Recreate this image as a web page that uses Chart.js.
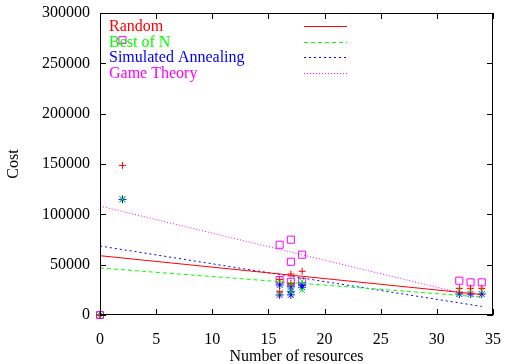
<!DOCTYPE html>
<html>
<head>
<meta charset="utf-8">
<script src="https://cdn.jsdelivr.net/npm/chart.js@4/dist/chart.umd.min.js"></script>
<style>
  html, body { margin: 0; padding: 0; background: #fff; }
  #wrap { width: 508px; height: 364px; }
</style>
</head>
<body>
<div id="wrap"><canvas id="canvas" width="508" height="364"></canvas></div>
<script>
// measured points (x = number of resources, y = cost)
var randomX = [0, 2, 16, 16, 17, 17, 18, 32, 33, 34];
var randomY = [0, 148600, 35400, 23100, 40700, 31500, 43400, 26500, 26500, 26500];

var bestX = [0, 2, 16, 16, 17, 17, 18, 18, 32, 33, 34];
var bestY = [0, 115000, 33000, 22000, 30000, 23100, 33700, 24800, 23800, 23800, 23800];

var annealX = [0, 2, 16, 16, 17, 17, 17, 18, 18, 32, 33, 34];
var annealY = [0, 114900, 29800, 19900, 28100, 23100, 20000, 29800, 27500, 20800, 20800, 20800];

var gameX = [0, 2, 16, 16, 17, 17, 17, 18, 18, 32, 33, 34];
var gameY = [0, 273000, 69800, 34700, 74800, 52900, 33000, 59900, 33000, 34100, 32400, 32400];

// fitted lines, value at each end
var fitX = [0, 34];
var randomFit = [58900, 20300];
var bestFit = [46700, 17800];
var annealFit = [68500, 8500];
var gameFit = [108200, 16800];

var xTicks = [0, 5, 10, 15, 20, 25, 30, 35];
var yTicks = [0, 50000, 100000, 150000, 200000, 250000, 300000];

var names = ["Random", "Best of N", "Simulated Annealing", "Game Theory"];
var colors = ["#ff0000", "#00ff00", "#0000ff", "#ff00ff"];
var dashes = [[], [4, 3], [2, 3], [1, 2]];

var SERIF = "'Liberation Serif', 'DejaVu Serif', serif";

function pairs(xs, ys) {
    return xs.map(function (x, i) { return {x: x, y: ys[i]}; });
}

// [x, y, marker, radius]
var pointSets = [[randomX, randomY, 'cross', 3.5], [bestX, bestY, 'crossRot', 4.5],
                 [annealX, annealY, 'star', 4], [gameX, gameY, 'rect', 5]];
var fits = [randomFit, bestFit, annealFit, gameFit];

var datasets = [];
fits.forEach(function (f, i) {
    datasets.push({
        type: 'line',
        data: pairs(fitX, f),
        borderColor: colors[i],
        borderWidth: 1,
        borderDash: dashes[i],
        pointRadius: 0,
        fill: false,
        clip: false
    });
});
pointSets.forEach(function (p, i) {
    datasets.push({
        type: 'scatter',
        data: pairs(p[0], p[1]),
        borderColor: colors[i],
        backgroundColor: p[2] === 'rect' ? 'rgba(0,0,0,0)' : colors[i],
        pointStyle: p[2],
        pointRadius: p[3],
        borderWidth: 1,
        clip: false
    });
});

// gnuplot style: inward ticks on all four sides, box border, legend text left / sample right
var gnuplotFrame = {
    id: 'gnuplotFrame',
    afterDraw: function (chart) {
        var ctx = chart.ctx, a = chart.chartArea;
        var xs = chart.scales.x, ys = chart.scales.y;
        ctx.save();
        ctx.strokeStyle = '#000';
        ctx.lineWidth = 1;
        ctx.setLineDash([]);
        ctx.strokeRect(a.left + 0.5, a.top + 0.5, a.right - a.left - 1, a.bottom - a.top - 1);
        ctx.beginPath();
        xTicks.forEach(function (t) {
            var px = Math.round(xs.getPixelForValue(t)) + 0.5;
            ctx.moveTo(px, a.bottom); ctx.lineTo(px, a.bottom - 6);
            ctx.moveTo(px, a.top); ctx.lineTo(px, a.top + 6);
        });
        yTicks.forEach(function (t) {
            var py = Math.round(ys.getPixelForValue(t)) + 0.5;
            ctx.moveTo(a.left, py); ctx.lineTo(a.left + 6, py);
            ctx.moveTo(a.right, py); ctx.lineTo(a.right - 6, py);
        });
        ctx.stroke();

        // legend
        ctx.font = '16px ' + SERIF;
        ctx.textBaseline = 'middle';
        ctx.textAlign = 'left';
        names.forEach(function (n, i) {
            var y = Math.round(27 + i * 15.7);
            ctx.fillStyle = colors[i];
            ctx.fillText(n, 109, y);
            ctx.strokeStyle = colors[i];
            ctx.lineWidth = 1;
            ctx.setLineDash(dashes[i]);
            ctx.beginPath();
            ctx.moveTo(304, y - 0.5);
            ctx.lineTo(347, y - 0.5);
            ctx.stroke();
        });
        ctx.restore();
    }
};

new Chart(document.getElementById('canvas').getContext('2d'), {
    data: {datasets: datasets},
    options: {
        responsive: false,
        animation: false,
        events: [],
        layout: {padding: {top: 13, right: 9, left: 0, bottom: 0}},
        plugins: {legend: {display: false}, tooltip: {enabled: false}},
        scales: {
            x: {
                type: 'linear',
                min: 0, max: 35,
                afterBuildTicks: function (s) { s.ticks = xTicks.map(function (v) { return {value: v}; }); },
                afterFit: function (s) { s.height = 49; },
                grid: {display: false},
                border: {display: false},
                ticks: {color: '#000', font: {family: SERIF, size: 16}, padding: 7, maxRotation: 0},
                title: {display: true, text: 'Number of resources', color: '#000',
                        font: {family: SERIF, size: 16}, padding: {top: 4, bottom: -2}}
            },
            y: {
                type: 'linear',
                min: 0, max: 300000,
                afterBuildTicks: function (s) { s.ticks = yTicks.map(function (v) { return {value: v}; }); },
                afterFit: function (s) { s.width = 100; },
                grid: {display: false},
                border: {display: false},
                ticks: {color: '#000', font: {family: SERIF, size: 16}, padding: 2,
                        callback: function (v) { return String(v); }},
                title: {display: true, text: 'Cost', color: '#000',
                        font: {family: SERIF, size: 16}, padding: {top: 4, bottom: 6}}
            }
        }
    },
    plugins: [gnuplotFrame]
});
</script>
</body>
</html>
